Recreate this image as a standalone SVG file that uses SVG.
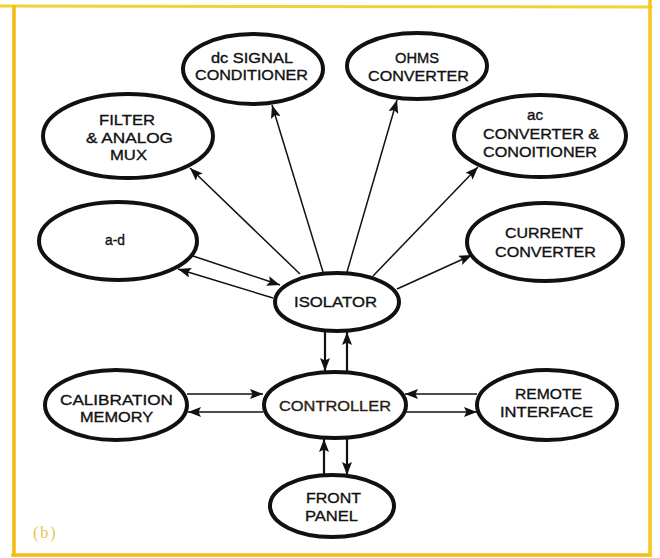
<svg xmlns="http://www.w3.org/2000/svg" width="660" height="558" viewBox="0 0 660 558">
<style>
  .node ellipse { fill: #ffffff; stroke: #111111; stroke-width: 4; }
  .node text { font-family: "Liberation Sans", Arial, sans-serif; font-size: 15px; fill: #111111; stroke: #111111; stroke-width: 0.35; text-anchor: middle; }
  .conn line { stroke: #111111; stroke-width: 1.5; fill: none; marker-end: url(#arr); }
  .conn line.thick { stroke-width: 2.2; }
  .frame { fill: none; stroke-linecap: square; }
</style>
<defs>
  <marker id="arr" markerUnits="userSpaceOnUse" markerWidth="14" markerHeight="10" refX="13" refY="5" orient="auto">
    <path d="M0,0 L13,5 L0,10 L2.5,5 z" fill="#111111"/>
  </marker>
</defs>
<rect x="0" y="0" width="660" height="558" fill="#ffffff"/>
<g id="frame">
  <line class="frame" x1="0" y1="6" x2="651" y2="7" stroke="#F1D335" stroke-width="3"/>
  <line class="frame" x1="14" y1="7" x2="14" y2="555" stroke="#F4BA0E" stroke-width="3.5"/>
  <line class="frame" x1="13" y1="555" x2="650" y2="555" stroke="#F4BC16" stroke-width="3.5"/>
  <line class="frame" x1="650" y1="0" x2="650" y2="555" stroke="#F4C420" stroke-width="3.5"/>
  <text x="33" y="538" font-family="'Liberation Serif', 'Times New Roman', serif" font-size="16" fill="#E9C34A" letter-spacing="2">(b)</text>
</g>
<g id="connectors" class="conn">
  <line x1="300" y1="274" x2="190" y2="168"/>
  <line x1="323" y1="272" x2="272" y2="105"/>
  <line x1="347" y1="272" x2="397" y2="100"/>
  <line x1="373" y1="276" x2="478" y2="167"/>
  <line x1="397" y1="289" x2="472" y2="255"/>
  <line x1="193" y1="256" x2="280" y2="285"/>
  <line x1="273" y1="298" x2="178" y2="269"/>
  <line class="thick" x1="325" y1="331" x2="325" y2="371"/>
  <line class="thick" x1="347" y1="373" x2="347" y2="332"/>
  <line x1="187" y1="394" x2="263" y2="394"/>
  <line x1="263" y1="412" x2="188" y2="412"/>
  <line x1="477" y1="394" x2="405" y2="394"/>
  <line x1="405" y1="412" x2="477" y2="412"/>
  <line class="thick" x1="324" y1="475" x2="324" y2="439"/>
  <line class="thick" x1="347" y1="437" x2="347" y2="475"/>
</g>
<g id="dc-signal" class="node">
  <ellipse cx="253" cy="69" rx="70" ry="35"/>
  <text x="252" y="62.5" textLength="82" lengthAdjust="spacingAndGlyphs">dc SIGNAL</text>
  <text x="251.5" y="80" textLength="113" lengthAdjust="spacingAndGlyphs">CONDITIONER</text>
</g>
<g id="filter-mux" class="node">
  <ellipse cx="128" cy="136" rx="85" ry="42"/>
  <text x="127" y="125" textLength="56" lengthAdjust="spacingAndGlyphs">FILTER</text>
  <text x="129.5" y="142.5" textLength="87" lengthAdjust="spacingAndGlyphs">&amp; ANALOG</text>
  <text x="128.5" y="160" textLength="37" lengthAdjust="spacingAndGlyphs">MUX</text>
</g>
<g id="ohms" class="node">
  <ellipse cx="417" cy="66" rx="70" ry="33"/>
  <text x="417" y="62.5" textLength="44" lengthAdjust="spacingAndGlyphs">OHMS</text>
  <text x="418.5" y="80.5" textLength="101" lengthAdjust="spacingAndGlyphs">CONVERTER</text>
</g>
<g id="ac-converter" class="node">
  <ellipse cx="540" cy="136" rx="86" ry="41"/>
  <text x="535" y="120" textLength="16" lengthAdjust="spacingAndGlyphs">ac</text>
  <text x="541" y="139" textLength="116" lengthAdjust="spacingAndGlyphs">CONVERTER &amp;</text>
  <text x="540" y="157" textLength="114" lengthAdjust="spacingAndGlyphs">CONOITIONER</text>
</g>
<g id="a-d" class="node">
  <ellipse cx="118" cy="241" rx="79" ry="39"/>
  <text x="115" y="245" textLength="20" lengthAdjust="spacingAndGlyphs">a-d</text>
</g>
<g id="current" class="node">
  <ellipse cx="545" cy="242" rx="78" ry="39"/>
  <text x="544" y="238" textLength="78" lengthAdjust="spacingAndGlyphs">CURRENT</text>
  <text x="545.5" y="256.5" textLength="101" lengthAdjust="spacingAndGlyphs">CONVERTER</text>
</g>
<g id="isolator" class="node">
  <ellipse cx="337" cy="302" rx="62" ry="29"/>
  <text x="335.5" y="307" textLength="83" lengthAdjust="spacingAndGlyphs">ISOLATOR</text>
</g>
<g id="controller" class="node">
  <ellipse cx="335" cy="405" rx="71" ry="33"/>
  <text x="335" y="411" textLength="112" lengthAdjust="spacingAndGlyphs" style="fill:#2b1d12;stroke:#2b1d12">CONTROLLER</text>
</g>
<g id="calibration" class="node">
  <ellipse cx="116" cy="405" rx="71" ry="35"/>
  <text x="116.5" y="404.5" textLength="113" lengthAdjust="spacingAndGlyphs">CALIBRATION</text>
  <text x="116.5" y="422" textLength="73" lengthAdjust="spacingAndGlyphs">MEMORY</text>
</g>
<g id="remote" class="node">
  <ellipse cx="547" cy="405" rx="70" ry="35"/>
  <text x="548.5" y="399" textLength="67" lengthAdjust="spacingAndGlyphs">REMOTE</text>
  <text x="546.5" y="417" textLength="93" lengthAdjust="spacingAndGlyphs">INTERFACE</text>
</g>
<g id="front-panel" class="node">
  <ellipse cx="332" cy="506" rx="62" ry="31"/>
  <text x="333.5" y="503" textLength="55" lengthAdjust="spacingAndGlyphs">FRONT</text>
  <text x="331.5" y="521" textLength="53" lengthAdjust="spacingAndGlyphs">PANEL</text>
</g>
</svg>
